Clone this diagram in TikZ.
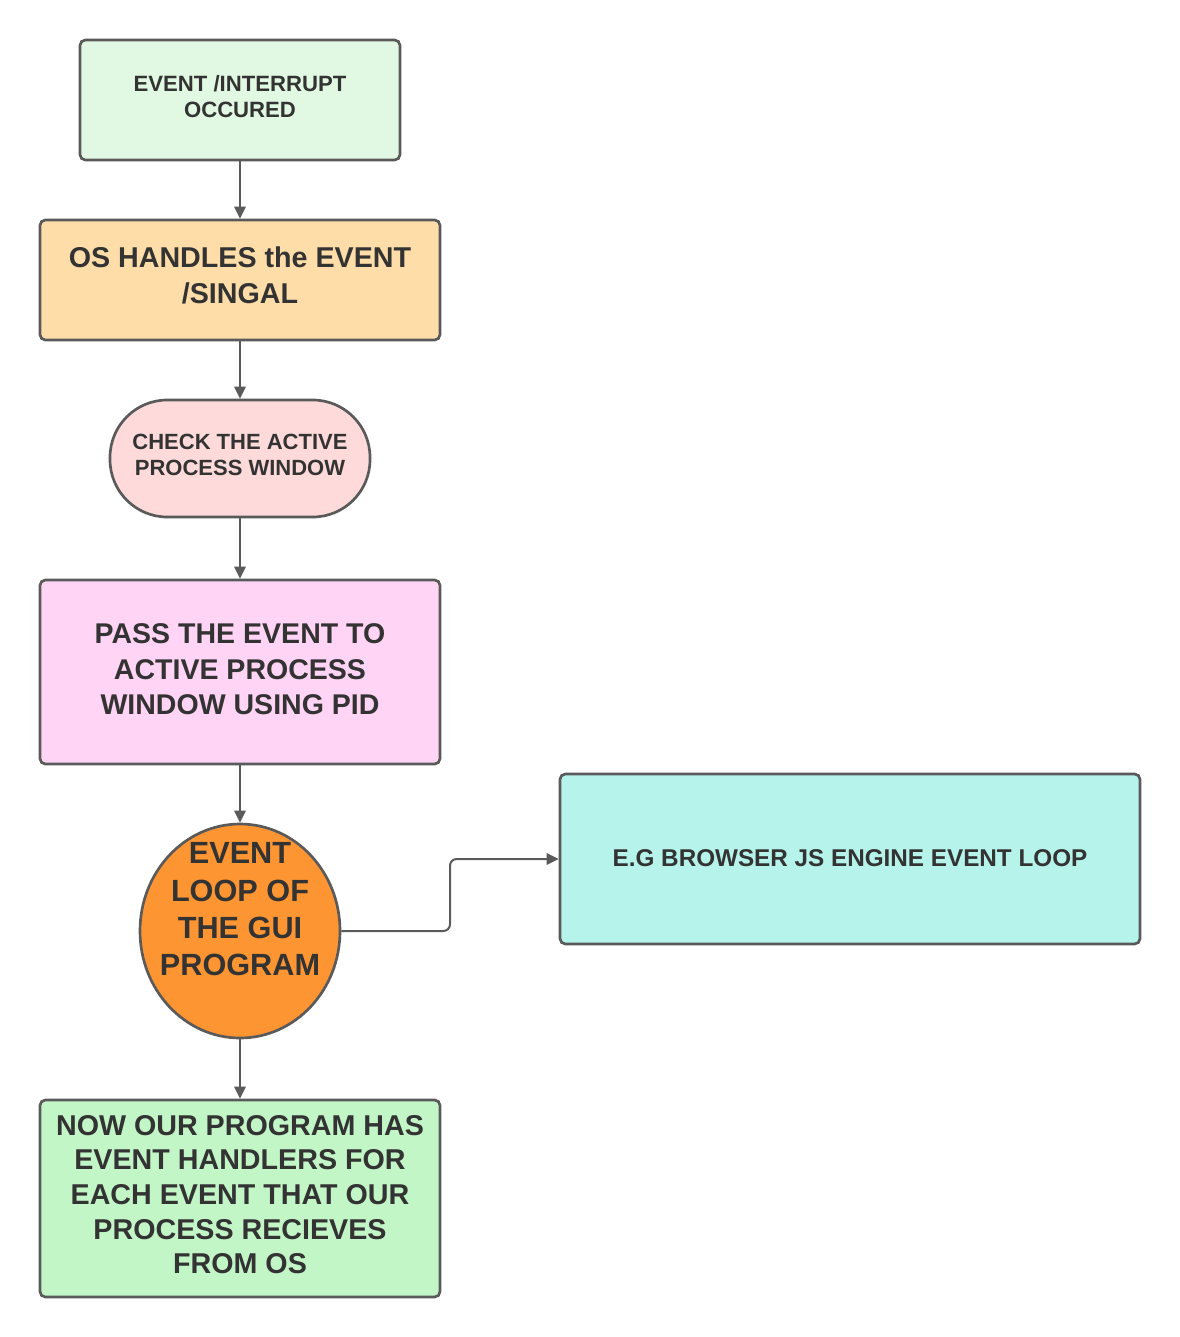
\documentclass[tikz,border=0pt]{standalone}
\usepackage{fontspec}
\setmainfont{Liberation Sans}
\usetikzlibrary{shapes.geometric,arrows.meta}
\definecolor{edgegray}{HTML}{5A5A5A}
\definecolor{txtgray}{HTML}{333333}
\definecolor{cA}{HTML}{E1F8E2}
\definecolor{cB}{HTML}{FEDDA8}
\definecolor{cC}{HTML}{FFDADA}
\definecolor{cD}{HTML}{FFD4F5}
\definecolor{cE}{HTML}{FD9632}
\definecolor{cF}{HTML}{B5F3EB}
\definecolor{cG}{HTML}{C3F6C7}
\tikzset{
  shapebox/.style={draw=edgegray, line width=2pt, rectangle, rounded corners=4pt, inner sep=0pt},
  txt/.style 2 args={text=txtgray, align=center, inner sep=0pt, font=\bfseries\fontsize{#1}{#2}\selectfont},
  conn/.style={draw=edgegray, line width=1.5pt, -{Triangle[length=9pt,width=8.5pt]}},
}
\begin{document}
\begin{tikzpicture}[x=0.75pt,y=-0.75pt]
\fill[white] (0,0) rectangle (1180,1337);
\useasboundingbox (0,0) rectangle (1180,1337);

\node[shapebox, fill=cA, minimum width=240pt, minimum height=90pt] (b1) at (240,100) {};
\node[shapebox, fill=cB, minimum width=300pt, minimum height=90pt] (b2) at (240,280) {};
\node[shapebox, fill=cC, minimum width=195pt, minimum height=87.75pt, rounded corners=43pt] (b3) at (240,458.5) {};
\node[shapebox, fill=cD, minimum width=300pt, minimum height=138pt] (b4) at (240,672) {};
\node[draw=edgegray, line width=2pt, ellipse, fill=cE, inner sep=0pt, minimum width=150pt, minimum height=160.5pt] (b5) at (240,931) {};
\node[shapebox, fill=cF, minimum width=435pt, minimum height=127.5pt] (b6) at (850,859) {};
\node[shapebox, fill=cG, minimum width=300pt, minimum height=147.75pt] (b7) at (240,1198.5) {};

\node[txt={16.6}{19.5}] (t1) at (240,96.7) {EVENT /INTERRUPT\\OCCURED};
\node[txt={21.5}{27}] (t2) at (240,275) {OS HANDLES the EVENT\\/SINGAL};
\node[txt={16.5}{19.5}] (t3) at (240,455.2) {CHECK THE ACTIVE\\PROCESS WINDOW};
\node[txt={21.4}{26.5}] (t4) at (240,669.5) {PASS THE EVENT TO\\ACTIVE PROCESS\\WINDOW USING PID};
\node[txt={23}{27.9}] (t5) at (240,909.2) {EVENT\\LOOP OF\\THE GUI\\PROGRAM};
\node[txt={18.2}{22}] (t6) at (850,858) {E.G BROWSER JS ENGINE EVENT LOOP};
\node[txt={21.5}{26}] (t7) at (240,1194.5) {NOW OUR PROGRAM HAS\\EVENT HANDLERS FOR\\EACH EVENT THAT OUR\\PROCESS RECIEVES\\FROM OS};

\coordinate (elb) at (450,895);
\draw[conn] (b1.south) -- (b2.north);
\draw[conn] (b2.south) -- (b3.north);
\draw[conn] (b3.south) -- (b4.north);
\draw[conn] (b4.south) -- (b5.north);
\draw[conn] (b5.south) -- (b7.north);
\draw[conn, rounded corners=5pt] (b5.east) -- (b5.east -| elb) |- (b6.west);
\end{tikzpicture}
\end{document}
